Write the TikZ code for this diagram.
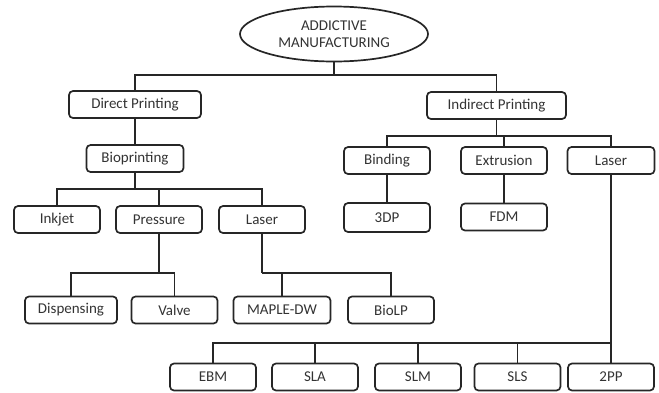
\documentclass[tikz,border=0pt]{standalone}
\usepackage{fontspec}
\setmainfont{Carlito}
\usetikzlibrary{shapes.geometric}
\definecolor{linegray}{HTML}{262626}
\definecolor{textgray}{HTML}{333333}
\begin{document}
\begin{tikzpicture}[x=1pt, y=-1pt,
    blk/.style={draw=linegray, line width=1.7pt, rounded corners=4pt, minimum width=86pt, minimum height=27pt, inner xsep=12pt, text=textgray, font=\fontsize{15}{17}\selectfont},
    wire/.style={draw=linegray, line width=1.7pt}]
    \useasboundingbox (0,0) rectangle (659,392);
    % root
    \node[draw=linegray, line width=1.7pt, ellipse, minimum width=188pt, minimum height=55pt, inner sep=0pt, align=center, text=textgray, font=\fontsize{15}{17}\selectfont] (am) at (334,34) {ADDICTIVE\\MANUFACTURING};
    % second level
    \node[blk, minimum width=132pt] (dp) at (135,104.5) {Direct Printing};
    \node[blk, minimum width=139pt] (ip) at (496.5,105.5) {Indirect Printing};
    \node[blk, minimum width=97pt] (bio) at (135,158.5) {Bioprinting};
    \node[blk] (bind) at (387,160.5) {Binding};
    \node[blk] (ext) at (504,160.5) {Extrusion};
    \node[blk, minimum width=87pt] (lsr) at (611,160.5) {Laser};
    \node[blk, minimum height=29pt] (tdp) at (387,217.5) {3DP};
    \node[blk] (fdm) at (504,217) {FDM};
    % bioprinting branch
    \node[blk] (ink) at (57,219.5) {Inkjet};
    \node[blk] (pres) at (159,219.5) {Pressure};
    \node[blk] (lsl) at (262,219.5) {Laser};
    \node[blk, minimum width=92pt] (disp) at (71,310) {Dispensing};
    \node[blk] (valve) at (174.5,310) {Valve};
    \node[blk, minimum width=97pt] (maple) at (282,310) {MAPLE-DW};
    \node[blk] (biolp) at (391,310) {BioLP};
    % laser branch
    \node[blk] (ebm) at (213,377) {EBM};
    \node[blk] (sla) at (315,377) {SLA};
    \node[blk] (slm) at (418,377) {SLM};
    \node[blk] (sls) at (517.5,377) {SLS};
    \node[blk] (tpp) at (611,377) {2PP};
    % junctions
    \coordinate (j1) at (334,75);
    \coordinate (j2) at (135,189);
    \coordinate (j3) at (496.5,136);
    \coordinate (j4) at (159,273);
    \coordinate (j5) at (262,273);
    \coordinate (j6) at (611,343);
    % connectors
    \draw[wire] (am.south) -- (j1);
    \draw[wire] (dp.north) |- (j1) -| (ip.north);
    \draw[wire] (dp.south) -- (bio.north);
    \draw[wire] (bio.south) -- (j2);
    \draw[wire] (ink.north) |- (j2) -| (lsl.north);
    \draw[wire] (pres.north) |- (j2);
    \draw[wire] (pres.south) -- (j4);
    \draw[wire] (disp.north) |- (j4) -| (valve.north);
    \draw[wire] (lsl.south) -- (j5);
    \draw[wire] (maple.north) |- (j5) -| (biolp.north);
    \draw[wire] (ip.south) -- (j3);
    \draw[wire] (bind.north) |- (j3) -| (lsr.north);
    \draw[wire] (ext.north) |- (j3);
    \draw[wire] (bind.south) -- (tdp.north);
    \draw[wire] (ext.south) -- (fdm.north);
    \draw[wire] (lsr.south) -- (tpp.north);
    \foreach \n in {ebm,sla,slm,sls}
        \draw[wire] (\n.north) |- (j6);
\end{tikzpicture}
\end{document}
